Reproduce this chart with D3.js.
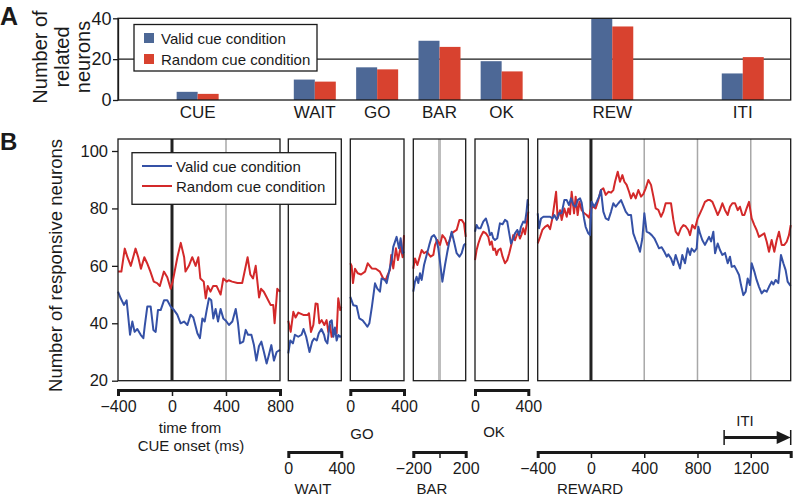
<!DOCTYPE html>
<html><head><meta charset="utf-8">
<script src="https://cdn.jsdelivr.net/npm/d3@7"></script>
<style>
body{margin:0;background:#fff;}
svg{display:block;font-family:"Liberation Sans",Arial,Helvetica,sans-serif;}
</style></head><body>
<svg id="c" width="794" height="497"></svg>
<script>
// ---------------- DATA ----------------
const seriesNames = ["Valid cue condition", "Random cue condition"];
// Panel A
const barCategories = ["CUE", "WAIT", "GO", "BAR", "OK", "REW", "ITI"];
const barValid  = [4, 10, 16, 29, 19, 40, 13];
const barRandom = [3, 9, 15, 26, 14, 36, 21];
const barEpoch  = ["CUE", "WAIT", "GO", "BAR", "OK", "REWARD", "REWARD"];
const barWindowCenterMs = [190, 200, 200, 0, 200, 160, 1140];
const barTicks = [0, 20, 40];
// Panel B
const lineTicks = [20, 40, 60, 80, 100];
const epochs = ["CUE", "WAIT", "GO", "BAR", "OK", "REWARD"];
const epochDomains = { CUE: [-400, 800], WAIT: [0, 400], GO: [0, 400], BAR: [-200, 200], OK: [0, 400], REWARD: [-400, 1500] };
const epochTicks = { CUE: [-400, 0, 400, 800], WAIT: [0, 400], GO: [0, 400], BAR: [-200, 0, 200], OK: [0, 400], REWARD: [-400, 0, 400, 800, 1200] };
const epochTickLabels = { CUE: ["−400", "0", "400", "800"], WAIT: ["0", "400"], GO: ["0", "400"], BAR: ["−200", "", "200"], OK: ["0", "400"], REWARD: ["−400", "0", "400", "800", "1200"] };
const eventLines = { CUE: [0], BAR: [0], REWARD: [0] };
const gridLines = { CUE: [400], REWARD: [400, 800, 1200] };
const itiRange = [1000, 1500];

const validCUE = [[-400,51],[-380,48.7],[-356,46.4],[-336,48],[-311,36],[-294,40.6],[-277,37],[-257,38],[-232,36],[-212,34.8],[-202,39],[-183,45.8],[-158,45.8],[-138,37.7],[-121,37],[-104,44.6],[-84,44.6],[-59,48],[-35,48],[-10,45.8],[15,44.6],[39,43],[64,40],[89,40.6],[114,39.4],[138,43],[158,42],[188,36.5],[207,34.8],[225,41.7],[242,40.6],[257,44.6],[274,48.7],[291,48],[306,41.7],[323,45],[341,40.6],[360,45],[380,41.7],[397,41],[422,39.4],[447,40.6],[472,45],[489,40],[504,33],[528,33.6],[546,37.7],[563,36],[588,36],[607,32.4],[625,27],[644,32],[662,33.6],[681,30],[701,26],[718,29],[736,32.4],[755,27],[775,30],[800,30.7]];
const randomCUE = [[-400,58],[-375,58],[-350,66],[-330,63],[-305,60],[-270,66],[-250,63],[-230,59],[-205,63],[-185,61],[-160,58],[-135,54.5],[-110,54],[-90,53],[-60,58],[-35,56],[-10,52],[5,54.5],[40,63],[65,68],[90,63],[100,58],[125,60],[150,63],[175,60],[195,63],[210,55.6],[235,54.5],[250,48.7],[265,53],[285,51],[305,53],[330,53],[360,50],[380,55.6],[405,54.5],[420,55],[445,54.5],[485,54],[520,54],[560,63],[580,57],[600,55.6],[620,60],[645,49],[660,52],[680,51],[705,48.7],[730,46.4],[750,46.4],[760,40],[780,52],[800,51]];
const validWAIT = [[0,29.5],[15,34],[35,33],[50,36],[75,35.3],[100,36],[115,38],[135,35.3],[160,30],[180,33.6],[195,34.7],[215,34],[230,36.5],[250,38],[270,36],[280,34],[295,33],[314,40.5],[328,41],[340,35.3],[352,38.5],[365,34],[377,35.9],[390,35.3],[400,35.5]];
const randomWAIT = [[0,40.9],[18,37],[38,44],[55,42],[75,43.7],[113,42.9],[146,42.9],[156,43.5],[171,37],[189,39.4],[206,46.9],[221,46.7],[234,40],[252,41.1],[272,39.4],[289,41.1],[302,37],[315,39.4],[327,35.3],[347,36.5],[365,36.5],[377,48.7],[392,44.6],[400,45.8]];
const validGO = [[0,49.2],[22,46.3],[47,46],[67,41.7],[92,41],[109,40],[127,38.8],[142,40],[161,45.8],[184,53.9],[201,52.1],[221,51],[233,55.6],[258,55],[271,54],[291,58.5],[308,62],[320,66.6],[345,70.1],[363,66.1],[375,69.6],[390,64.4],[400,65]];
const randomGO = [[0,60.9],[10,60],[20,54],[35,59],[55,57.4],[80,57],[110,58],[130,60.9],[160,59.1],[190,59],[220,58],[245,55.6],[265,55.1],[275,56.5],[295,58.5],[305,63.8],[320,59.1],[340,66.1],[355,62],[375,66.6],[390,63],[400,70.7]];
const validBAR = [[-200,51],[-187,54.5],[-175,56.2],[-162,54],[-149,57.4],[-136,55.1],[-118,60.3],[-98,63.8],[-78,67.3],[-60,70.1],[-42,70.7],[-27,69.6],[-9,66.1],[4,61.4],[22,54.5],[42,60.3],[60,64.9],[75,68.4],[93,71.9],[111,68.4],[131,64.4],[152,63.2],[169,64.4],[187,67.3],[200,67.8]];
const randomBAR = [[-200,59],[-187,62.6],[-169,60.3],[-136,65.5],[-118,64.4],[-98,65],[-68,63.2],[-47,63.8],[-34,67.3],[-17,69],[4,67.3],[22,70.7],[42,69.6],[60,67.3],[75,68.5],[93,71.3],[111,71.9],[131,72.5],[152,76],[169,76],[187,74.8],[200,70.1]];
const validOK = [[0,71.9],[12,74.2],[25,73.1],[42,73.1],[62,75.4],[82,76.5],[100,73.6],[112,70.7],[125,71.5],[137,69.6],[150,69],[167,69.6],[187,74.8],[207,74.5],[225,76],[242,75.4],[257,71.3],[270,67.8],[287,69.5],[300,71.3],[317,72.5],[332,70.7],[345,73.6],[362,75.4],[375,75],[387,78.9],[395,82.9],[400,81]];
const randomOK = [[0,62],[12,65.5],[25,67.8],[42,70.1],[62,71.9],[82,71.3],[100,70.1],[112,67.3],[125,68.5],[137,65.5],[150,66],[162,63.8],[175,65.5],[192,66],[207,63.2],[225,60.9],[242,62],[257,64.4],[275,67.8],[287,70.7],[300,68.9],[312,70.5],[325,71.9],[337,69.5],[350,71],[362,73.1],[375,71],[387,74.2],[400,78.9]];
const validREWARD = [[-400,78.3],[-390,73.1],[-375,76.5],[-357,77.1],[-332,77.1],[-307,77.1],[-290,76.5],[-275,77.7],[-257,76],[-240,78.3],[-220,78.3],[-200,82.9],[-182,82.9],[-165,81.2],[-150,83.5],[-132,81.2],[-115,80.6],[-100,82.9],[-82,83.5],[-70,82],[-52,76.5],[-40,73.6],[-20,71.3],[-7,70.7],[5,82.3],[25,80.6],[43,82.3],[61,84.1],[75,86.4],[93,78.9],[111,76.5],[131,76],[151,78.9],[168,81.8],[186,80.6],[206,81.8],[226,82.9],[243,81],[261,78.9],[281,77.7],[301,77.7],[318,71.3],[336,69],[351,67.3],[368,64.9],[386,69.6],[401,78.3],[418,71.9],[436,71.5],[456,70.7],[476,69.6],[494,67.8],[511,66.1],[531,66.5],[551,64.9],[569,63.2],[581,64],[601,62.6],[619,60.3],[636,63.8],[656,60.9],[669,59.1],[686,63.8],[706,60.9],[726,66.1],[744,63.8],[756,66],[776,64.9],[794,66.1],[806,73.6],[819,71.3],[836,69],[856,67.3],[869,68.5],[887,70.1],[902,68.5],[919,71.9],[932,64.4],[952,67.8],[969,65.5],[987,63.8],[1007,64.5],[1027,60.9],[1044,63.2],[1057,59.7],[1077,60],[1094,58.5],[1112,56.8],[1127,53.3],[1144,49.8],[1162,51],[1177,55.6],[1194,53.3],[1207,60.9],[1227,58],[1244,55.1],[1262,52.7],[1282,50.4],[1302,51.5],[1320,51],[1337,52.7],[1357,54.5],[1370,53.5],[1387,55.1],[1407,54],[1427,63.8],[1445,60.9],[1462,58.5],[1477,54.5],[1495,53.3],[1500,53]];
const randomREWARD = [[-400,67.8],[-382,70.1],[-365,72.5],[-345,73.6],[-325,74.2],[-307,72.8],[-290,76.5],[-262,85.8],[-250,76.5],[-232,79.4],[-220,76],[-200,80],[-182,77.1],[-170,80],[-157,78],[-145,85.8],[-127,78.3],[-115,84.1],[-100,77.7],[-87,82.3],[-70,79.4],[-50,78.3],[-32,77.7],[-15,76.8],[0,80],[18,80.6],[35,80],[55,82.9],[75,86.4],[93,87],[111,84.7],[131,85.8],[151,85.5],[168,86.4],[181,89.3],[201,92.8],[218,89.3],[236,91.6],[251,89.3],[268,88.2],[286,85.8],[301,83.5],[318,85.3],[336,83.5],[356,86.4],[376,84.1],[393,85],[411,87],[431,89.9],[451,88.2],[469,84.1],[486,80],[506,79.5],[526,77.1],[544,78.9],[561,81.8],[581,81.8],[601,81.8],[619,76],[636,71.9],[656,70.7],[676,73.1],[694,74.2],[711,73.8],[731,72.5],[744,70.7],[761,74.2],[781,73],[801,76.5],[819,78.3],[836,80],[856,82.3],[877,82.9],[894,82.9],[912,82.3],[932,80],[952,77.7],[969,79.4],[987,81.8],[1007,79.4],[1027,77.7],[1044,80.6],[1062,81.8],[1082,81.8],[1102,79.4],[1119,80.6],[1137,77.7],[1152,77.7],[1169,80],[1187,82.3],[1207,76.5],[1227,74.2],[1244,72.5],[1262,70.1],[1282,70.7],[1302,71.3],[1320,68.4],[1337,64.9],[1357,69],[1377,64.9],[1395,69],[1412,71.9],[1432,67.3],[1452,67.3],[1470,68.4],[1487,70.7],[1500,74.2]];

const validSeries = { CUE: validCUE, WAIT: validWAIT, GO: validGO, BAR: validBAR, OK: validOK, REWARD: validREWARD };
const randomSeries = { CUE: randomCUE, WAIT: randomWAIT, GO: randomGO, BAR: randomBAR, OK: randomOK, REWARD: randomREWARD };

// ---------------- LAYOUT / STYLE ----------------
const lineBlue = "#3551a6", lineRed = "#d3292a";
const barBlue = "#4d6896", barRed = "#d8422f";
const ink = "#1a1a1a";
const svg = d3.select("#c");

const panelRange = { CUE: [118, 280], WAIT: [288.3, 341.3], GO: [350.3, 404], BAR: [413.3, 465.7], OK: [475, 528.3], REWARD: [537.7, 790.7] };
const axisRow = { CUE: 390, GO: 390, OK: 390, WAIT: 452, BAR: 452, REWARD: 452 };
const xs = {};
epochs.forEach(e => xs[e] = d3.scaleLinear().domain(epochDomains[e]).range(panelRange[e]));

// ---------------- PANEL A ----------------
const aLeft = 118, aRight = 790.7;
const yA = d3.scaleLinear().domain([0, 40]).range([100, 18.3]);
const sub = d3.scaleBand().domain(["valid", "random"]).range([-21, 21]).padding(0);

const gA = svg.append("g");
gA.append("line").attr("x1", aLeft).attr("x2", aRight).attr("y1", yA(20)).attr("y2", yA(20))
  .attr("stroke", ink).attr("stroke-width", 1.2);

const barData = barCategories.map((c, i) => ({ c, i, cx: xs[barEpoch[i]](barWindowCenterMs[i]), valid: barValid[i], random: barRandom[i] }));
barData.forEach(d => {
  [["valid", d.valid, barBlue], ["random", d.random, barRed]].forEach(([k, v, col]) => {
    gA.append("rect").attr("x", d.cx + sub(k)).attr("width", sub.bandwidth())
      .attr("y", yA(v)).attr("height", yA(0) - yA(v)).attr("fill", col);
  });
  gA.append("text").attr("x", d.cx).attr("y", 118).attr("text-anchor", "middle")
    .attr("font-size", 17).attr("fill", ink).text(d.c);
});
gA.append("rect").attr("x", aLeft).attr("y", yA(40)).attr("width", aRight - aLeft).attr("height", yA(0) - yA(40))
  .attr("fill", "none").attr("stroke", ink).attr("stroke-width", 1.3);
const axA = gA.append("g").attr("transform", `translate(${aLeft},0)`)
  .call(d3.axisLeft(yA).tickValues(barTicks).tickSize(5).tickSizeOuter(0).tickPadding(1.5));
axA.selectAll("path,line").attr("stroke", ink).attr("stroke-width", 1.3);
axA.selectAll("text").attr("font-size", 18).attr("fill", ink).attr("font-family", "Liberation Sans, Arial, sans-serif");

// legend A
const lgA = gA.append("g");
lgA.append("rect").attr("x", 134).attr("y", 24.5).attr("width", 183).attr("height", 46.5)
  .attr("fill", "#fff").attr("stroke", ink).attr("stroke-width", 1.3);
[[barBlue, 38], [barRed, 59]].forEach(([col, yy], i) => {
  lgA.append("rect").attr("x", 144).attr("y", yy - 5).attr("width", 10).attr("height", 10).attr("fill", col);
  lgA.append("text").attr("x", 161).attr("y", yy + 5.5).attr("font-size", 15).attr("fill", ink).text(seriesNames[i]);
});

// y label A
const ylA = svg.append("text").attr("transform", "rotate(-90)").attr("text-anchor", "middle")
  .attr("font-size", 20).attr("fill", ink);
[["Number of", 47], ["related", 69], ["neurons", 89.5]].forEach(([t, bx]) => {
  ylA.append("tspan").attr("x", -57).attr("y", bx).text(t);
});
svg.append("text").attr("x", 0).attr("y", 25).attr("font-size", 25).attr("font-weight", "bold").attr("fill", ink).text("A");

// ---------------- PANEL B ----------------
const yB = d3.scaleLinear().domain([20, 100]).range([380.7, 151]);
const frameTop = 139, frameBottom = yB(20);
const gB = svg.append("g");

epochs.forEach(e => {
  const x = xs[e];
  const g = gB.append("g");
  (gridLines[e] || []).forEach(t => {
    g.append("line").attr("x1", x(t)).attr("x2", x(t)).attr("y1", frameTop).attr("y2", frameBottom)
      .attr("stroke", "#a8a8a8").attr("stroke-width", 1.5);
  });
  (eventLines[e] || []).forEach(t => {
    g.append("line").attr("x1", x(t)).attr("x2", x(t)).attr("y1", frameTop).attr("y2", frameBottom)
      .attr("stroke", e === "BAR" ? "#bdbdbd" : "#222").attr("stroke-width", 3);
  });
  const line = d3.line().x(d => x(d[0])).y(d => yB(d[1]));
  g.append("path").datum(randomSeries[e]).attr("d", line).attr("fill", "none")
    .attr("stroke", lineRed).attr("stroke-width", 2).attr("stroke-linejoin", "round");
  g.append("path").datum(validSeries[e]).attr("d", line).attr("fill", "none")
    .attr("stroke", lineBlue).attr("stroke-width", 2).attr("stroke-linejoin", "round");
  g.append("rect").attr("x", panelRange[e][0]).attr("y", frameTop)
    .attr("width", panelRange[e][1] - panelRange[e][0]).attr("height", frameBottom - frameTop)
    .attr("fill", "none").attr("stroke", ink).attr("stroke-width", 1.3);

  const labs = epochTickLabels[e];
  const ax = gB.append("g").attr("transform", `translate(0,${axisRow[e]})`)
    .call(d3.axisBottom(x).tickValues(epochTicks[e]).tickFormat((d, i) => labs[i])
      .tickSize(6).tickSizeOuter(6).tickPadding(5));
  ax.select(".domain").attr("stroke", ink).attr("stroke-width", 3);
  ax.selectAll(".tick line").attr("stroke", ink).attr("stroke-width", 1.5);
  ax.selectAll("text").attr("font-size", 16).attr("fill", ink).attr("font-family", "Liberation Sans, Arial, sans-serif");
});

// y axis B
const axB = gB.append("g").attr("transform", `translate(${panelRange.CUE[0]},0)`)
  .call(d3.axisLeft(yB).tickValues(lineTicks).tickSize(6).tickSizeOuter(0).tickPadding(4));
axB.select(".domain").remove();
axB.selectAll("line").attr("stroke", ink).attr("stroke-width", 1.3);
axB.selectAll("text").attr("font-size", 16.5).attr("fill", ink).attr("font-family", "Liberation Sans, Arial, sans-serif");

// axis titles
const titles = [
  ["time from", 190, 433], ["CUE onset (ms)", 191, 451],
  ["GO", 362, 439], ["OK", 494, 437],
  ["WAIT", 313, 493.5], ["BAR", 432, 493.5], ["REWARD", 590, 493.5]
];
titles.forEach(([t, x, y]) => svg.append("text").attr("x", x).attr("y", y).attr("text-anchor", "middle")
  .attr("font-size", 15).attr("fill", ink).text(t));

// ITI arrow
const xr = xs.REWARD, itiY = 437.5;
const x0 = xr(itiRange[0]), x1 = xr(itiRange[1]);
svg.append("line").attr("x1", x0).attr("x2", x1 - 10).attr("y1", itiY).attr("y2", itiY).attr("stroke", ink).attr("stroke-width", 3);
svg.append("path").attr("d", `M${x1 - 14},${itiY - 6.5}L${x1},${itiY}L${x1 - 14},${itiY + 6.5}Z`).attr("fill", ink);
[x0, x1].forEach(xx => svg.append("line").attr("x1", xx).attr("x2", xx).attr("y1", itiY - 7.5).attr("y2", itiY + 7.5)
  .attr("stroke", ink).attr("stroke-width", 1.5));
svg.append("text").attr("x", 745).attr("y", 426).attr("text-anchor", "middle").attr("font-size", 15).attr("fill", ink).text("ITI");

// legend B
const lgB = svg.append("g");
lgB.append("rect").attr("x", 132).attr("y", 152.7).attr("width", 203.7).attr("height", 51.6)
  .attr("fill", "#fff").attr("stroke", ink).attr("stroke-width", 1.3);
[[lineBlue, 166], [lineRed, 186]].forEach(([col, yy], i) => {
  lgB.append("line").attr("x1", 142).attr("x2", 172).attr("y1", yy).attr("y2", yy).attr("stroke", col).attr("stroke-width", 2);
  lgB.append("text").attr("x", 176).attr("y", yy + 5.5).attr("font-size", 15).attr("fill", ink).text(seriesNames[i]);
});

// y label B
svg.append("text").attr("transform", "rotate(-90)").attr("x", -265.5).attr("y", 61.5).attr("text-anchor", "middle")
  .attr("font-size", 18.5).attr("fill", ink).text("Number of responsive neurons");
svg.append("text").attr("x", 0).attr("y", 150).attr("font-size", 24).attr("font-weight", "bold").attr("fill", ink).text("B");
</script>
</body></html>
